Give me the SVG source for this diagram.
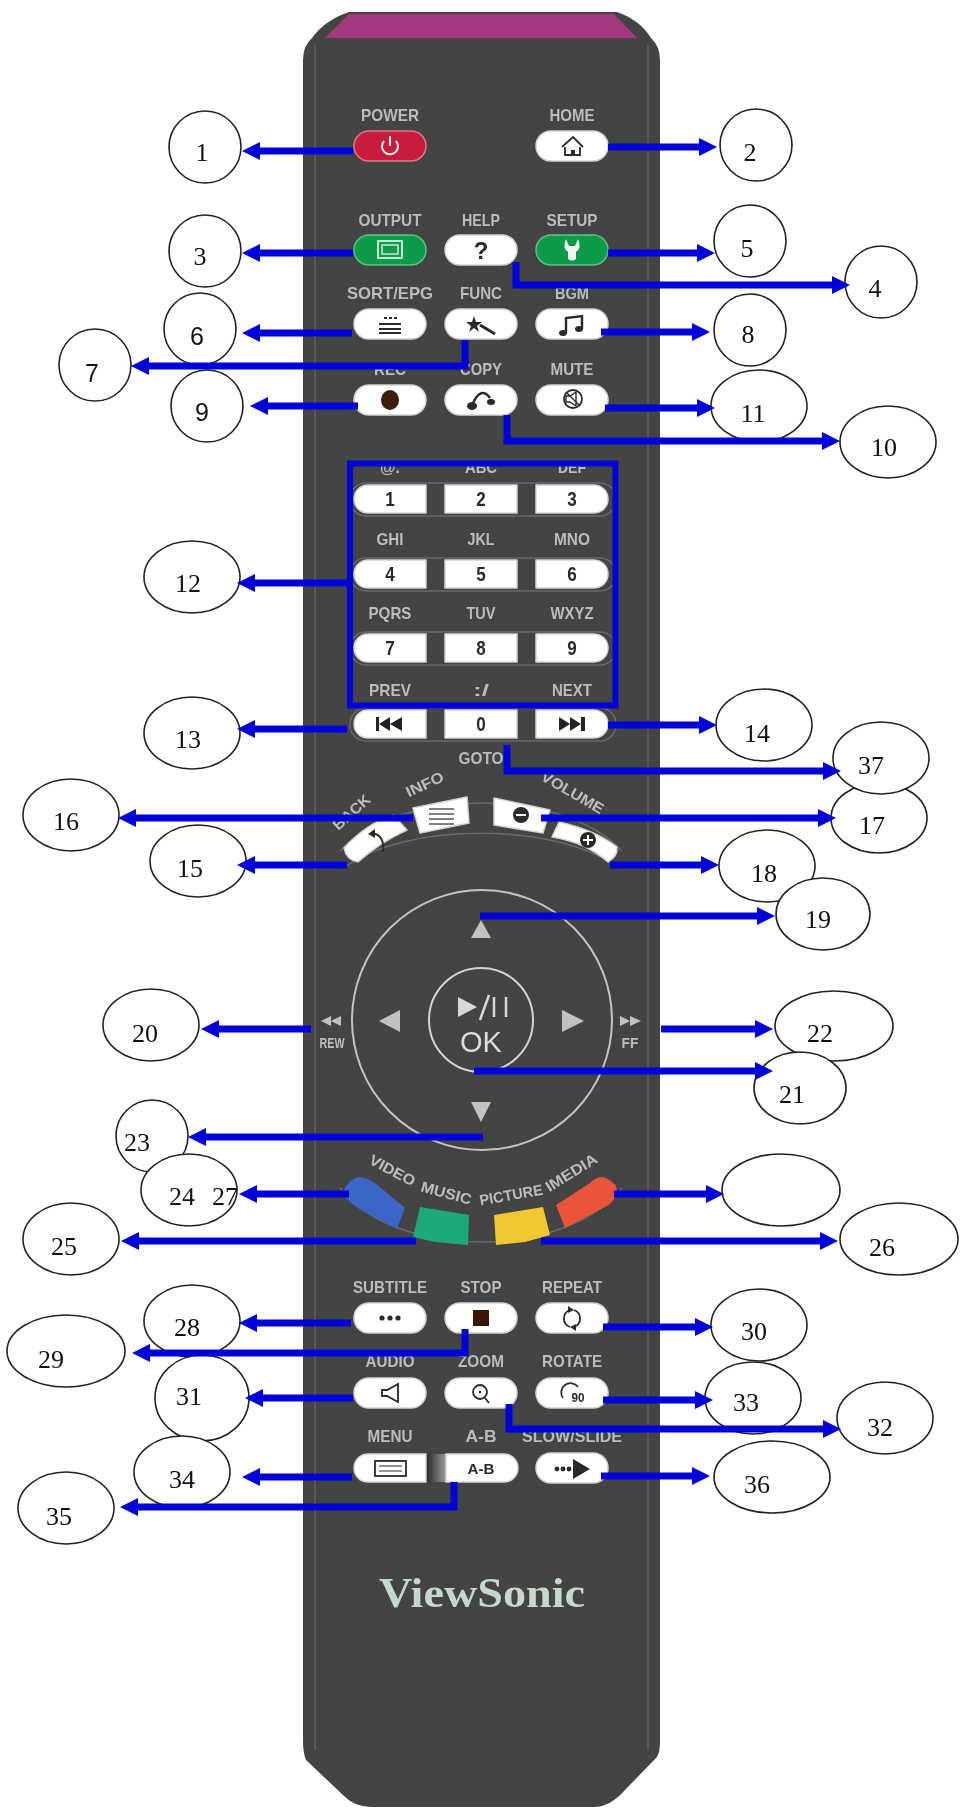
<svg xmlns="http://www.w3.org/2000/svg" width="968" height="1810" viewBox="0 0 968 1810">
<style>
.l{font-family:"Liberation Sans",Arial,sans-serif;font-size:17px;font-weight:bold;fill:#bcbcbc;text-anchor:middle}
.r{font-size:15px}
.d{font-family:"Liberation Sans",Arial,sans-serif;font-size:20px;font-weight:bold;fill:#2a2a2a;text-anchor:middle}
.n{font-family:"Liberation Serif","Times New Roman",serif;font-size:26px;fill:#111;text-anchor:middle}
.ns{font-family:"Liberation Sans",Arial,sans-serif;font-size:25px;fill:#111;text-anchor:middle}
.c{fill:#fff;stroke:#222;stroke-width:1.6}
.k{fill:#fff;stroke:#d4d4d4;stroke-width:1.5;stroke-linejoin:round}
.i{fill:#2a2a2a}
.s{fill:none;stroke:#2a2a2a;stroke-width:1.8}
.t{fill:#c2c2c2}
.w{fill:none;stroke:#6a6a6a;stroke-width:1.5}
.cn{fill:none;stroke:#0000d8;stroke-width:7;marker-end:url(#ah)}
</style>
<defs>
<marker id="ah" markerUnits="userSpaceOnUse" markerWidth="18" markerHeight="18" viewBox="0 0 18 18" refX="4" refY="9" orient="auto"><path d="M0,0L18,9L0,18Z" fill="#0000d8"/></marker>
<rect id="pill" x="-36" y="-15" width="72" height="30" rx="15"/>
<path id="pl" d="M36,-14H-22A14,14 0 0 0 -22,14H36Z"/>
<path id="pr" d="M-36,-14H22A14,14 0 0 1 22,14H-36Z"/>
<rect id="pc" x="-36" y="-14" width="72" height="28"/>
<linearGradient id="gap"><stop offset="0" stop-color="#222"/><stop offset="1" stop-color="#999"/></linearGradient>
<filter id="soft" x="-2%" y="-2%" width="104%" height="104%"><feGaussianBlur stdDeviation="0.5"/></filter>
</defs>
<rect width="968" height="1810" fill="#fff"/>
<g id="remote">
<path d="M349,12H617Q640,20 651,38Q660,46 660,60V1742Q660,1752 657,1757L625,1790Q610,1807 594,1807H371Q355,1807 344,1796L306,1760Q303,1752 303,1742V60Q303,46 312,38Q325,20 349,12Z" fill="#444"/>
<path d="M349,14H614L637,38H325Z" fill="#a33a7e"/>
<path d="M315,45V1750M648,45V1750" stroke="#6b655f" stroke-width="1.2" fill="none"/>
<path d="M340,851C400,787 562,787 622,851M345,867C405,822 557,822 617,867" class="w"/>
<ellipse cx="482" cy="1020" rx="130" ry="130" fill="none" stroke="#c4c4c4" stroke-width="2"/>
<circle cx="481" cy="1020" r="52" fill="none" stroke="#d4d4d4" stroke-width="2"/>
<path d="M340,1188C395,1260 565,1260 622,1188" class="w"/>
</g>
<g id="keys" filter="url(#soft)">
<g id="power"><text x="390" y="121" class="l" textLength="58" lengthAdjust="spacingAndGlyphs">POWER</text><use href="#pill" x="390" y="146" fill="#c81e3c" stroke="#d87a88" stroke-width="1.5"/><path d="M384,141A8,8 0 1 0 396,141" fill="none" stroke="#eee" stroke-width="2"/><path d="M390,136V146" stroke="#eee" stroke-width="2"/></g>
<g id="home"><text x="572" y="121" class="l" textLength="45" lengthAdjust="spacingAndGlyphs">HOME</text><use href="#pill" x="572" y="146" class="k"/><path d="M562,147L573,137L583,147M565,147V155H580V147" class="s"/><rect x="571" y="150" width="4" height="5" class="i"/></g>
<g id="output"><text x="390" y="226" class="l" textLength="63" lengthAdjust="spacingAndGlyphs">OUTPUT</text><use href="#pill" x="390" y="250" fill="#0d9a4a" stroke="#5cc08a" stroke-width="1.5"/><rect x="378" y="241" width="24" height="17" fill="none" stroke="#d8eee0" stroke-width="1.8"/><rect x="382" y="245" width="16" height="9" fill="none" stroke="#d8eee0" stroke-width="1.4"/></g>
<g id="help"><text x="481" y="226" class="l" textLength="38" lengthAdjust="spacingAndGlyphs">HELP</text><use href="#pill" x="481" y="250" class="k"/><text x="481" y="259" class="d" style="font-size:24px">?</text></g>
<g id="setup"><text x="572" y="226" class="l" textLength="51" lengthAdjust="spacingAndGlyphs">SETUP</text><use href="#pill" x="572" y="250" fill="#0d9a4a" stroke="#5cc08a" stroke-width="1.5"/><path d="M566,239L569,246H575L578,239Q582,248 576,252V259Q572,262 568,259V252Q562,248 566,239Z" fill="#f2f2f2"/></g>
<g id="sort"><text x="390" y="299" class="l" textLength="86" lengthAdjust="spacingAndGlyphs">SORT/EPG</text><use href="#pill" x="390" y="324" class="k"/><path d="M384,318h3M389,318h3M394,318h3M379,324H401M379,329H401M379,333H401" class="s"/></g>
<g id="func"><text x="481" y="299" class="l" textLength="42" lengthAdjust="spacingAndGlyphs">FUNC</text><use href="#pill" x="481" y="324" class="k"/><path d="M474,316L476,322L482,322L477,326L479,332L474,328L469,332L471,326L466,322L472,322Z" class="i"/><path d="M480,325L495,334" stroke="#2a2a2a" stroke-width="3"/></g>
<g id="bgm"><text x="572" y="299" class="l" textLength="34" lengthAdjust="spacingAndGlyphs">BGM</text><use href="#pill" x="572" y="324" class="k"/><path d="M566,333V318L582,316V329" class="s" style="stroke-width:2.4"/><ellipse cx="563" cy="333" rx="4" ry="3" class="i"/><ellipse cx="579" cy="329" rx="4" ry="3" class="i"/></g>
<g id="rec"><text x="390" y="375" class="l" textLength="32" lengthAdjust="spacingAndGlyphs">REC</text><use href="#pill" x="390" y="400" class="k"/><ellipse cx="390" cy="400" rx="9" ry="10" fill="#3a1a10"/></g>
<g id="copy"><text x="481" y="375" class="l" textLength="42" lengthAdjust="spacingAndGlyphs">COPY</text><use href="#pill" x="481" y="400" class="k"/><path d="M473,403Q481,386 490,398" class="s" style="stroke-width:2.4"/><ellipse cx="472" cy="406" rx="5" ry="4" class="i"/><ellipse cx="491" cy="402" rx="4" ry="3" class="i"/></g>
<g id="mute"><text x="572" y="375" class="l" textLength="43" lengthAdjust="spacingAndGlyphs">MUTE</text><use href="#pill" x="572" y="400" class="k"/><circle cx="573" cy="399" r="9" class="s"/><path d="M566,396H570L576,392V406L570,402H566ZM566,392L580,406" class="s" style="stroke-width:1.4"/></g>

<g id="digits">
<g class="w"><rect x="350" y="483" width="266" height="33" rx="16"/><rect x="350" y="558" width="266" height="33" rx="16"/><rect x="350" y="632" width="266" height="33" rx="16"/><rect x="350" y="708" width="266" height="33" rx="16"/></g>
<text x="390" y="473" class="l" textLength="20" lengthAdjust="spacingAndGlyphs">@.</text><text x="481" y="473" class="l" textLength="32" lengthAdjust="spacingAndGlyphs">ABC</text><text x="572" y="473" class="l" textLength="28" lengthAdjust="spacingAndGlyphs">DEF</text>
<text x="390" y="545" class="l" textLength="27" lengthAdjust="spacingAndGlyphs">GHI</text><text x="481" y="545" class="l" textLength="27" lengthAdjust="spacingAndGlyphs">JKL</text><text x="572" y="545" class="l" textLength="36" lengthAdjust="spacingAndGlyphs">MNO</text>
<text x="390" y="619" class="l" textLength="43" lengthAdjust="spacingAndGlyphs">PQRS</text><text x="481" y="619" class="l" textLength="29" lengthAdjust="spacingAndGlyphs">TUV</text><text x="572" y="619" class="l" textLength="43" lengthAdjust="spacingAndGlyphs">WXYZ</text>
<text x="390" y="696" class="l" textLength="42" lengthAdjust="spacingAndGlyphs">PREV</text><text x="481" y="696" class="l" textLength="16" lengthAdjust="spacingAndGlyphs">:/</text><text x="572" y="696" class="l" textLength="40" lengthAdjust="spacingAndGlyphs">NEXT</text>
<use href="#pl" x="390" y="499" class="k"/><use href="#pc" x="481" y="499" class="k"/><use href="#pr" x="572" y="499" class="k"/>
<use href="#pl" x="390" y="574" class="k"/><use href="#pc" x="481" y="574" class="k"/><use href="#pr" x="572" y="574" class="k"/>
<use href="#pl" x="390" y="648" class="k"/><use href="#pc" x="481" y="648" class="k"/><use href="#pr" x="572" y="648" class="k"/>
<use href="#pl" x="390" y="724" class="k"/><use href="#pc" x="481" y="724" class="k"/><use href="#pr" x="572" y="724" class="k"/>
<text x="390" y="506" class="d" textLength="9.5" lengthAdjust="spacingAndGlyphs">1</text><text x="481" y="506" class="d" textLength="9.5" lengthAdjust="spacingAndGlyphs">2</text><text x="572" y="506" class="d" textLength="9.5" lengthAdjust="spacingAndGlyphs">3</text>
<text x="390" y="581" class="d" textLength="9.5" lengthAdjust="spacingAndGlyphs">4</text><text x="481" y="581" class="d" textLength="9.5" lengthAdjust="spacingAndGlyphs">5</text><text x="572" y="581" class="d" textLength="9.5" lengthAdjust="spacingAndGlyphs">6</text>
<text x="390" y="655" class="d" textLength="9.5" lengthAdjust="spacingAndGlyphs">7</text><text x="481" y="655" class="d" textLength="9.5" lengthAdjust="spacingAndGlyphs">8</text><text x="572" y="655" class="d" textLength="9.5" lengthAdjust="spacingAndGlyphs">9</text>
<text x="481" y="731" class="d" textLength="9.5" lengthAdjust="spacingAndGlyphs">0</text>
<path d="M376,717V731h3V717ZM379,724L390,717V731ZM390,724L402,717V731Z" fill="#222"/>
<path d="M559,717V731L570,724ZM570,717V731L581,724ZM581,717V731H585V717Z" fill="#222"/>
<text x="481" y="764" class="l" textLength="45" lengthAdjust="spacingAndGlyphs">GOTO</text>
</g>

<g id="arc-keys">
<text transform="translate(355,816) rotate(-42)" class="l r" textLength="45" lengthAdjust="spacingAndGlyphs">BACK</text>
<text transform="translate(427,789) rotate(-25)" class="l r" textLength="40" lengthAdjust="spacingAndGlyphs">INFO</text>
<text transform="translate(570,797) rotate(30)" class="l r" textLength="70" lengthAdjust="spacingAndGlyphs">VOLUME</text>
<path id="k-back" d="M344,848Q366,824 393,815L407,830Q380,842 358,862Q346,860 344,848Z" class="k"/>
<path d="M372,833Q385,835 383,852" class="s"/><path d="M368,834L375,829V838Z" class="i"/>
<path id="k-info" d="M413,808L467,797L469,823L420,833Z" class="k"/>
<path d="M429,809H454M429,814H454M429,819H454M429,824H454" stroke="#555" stroke-width="1.5"/>
<path id="k-vol-" d="M494,798L550,810L543,833L494,825Z" class="k"/>
<circle cx="521" cy="815" r="8" class="i"/><path d="M516,815H526" stroke="#fff" stroke-width="2"/>
<path id="k-vol+" d="M559,822Q595,830 617,847Q618,856 608,862Q585,842 552,837Z" class="k"/>
<circle cx="588" cy="840" r="8" class="i"/><path d="M583,840H593M588,835V845" stroke="#fff" stroke-width="2"/>
</g>

<g id="dpad">
<path d="M481,920L491,938H471Z" class="t"/><path d="M471,1102H491L481,1122Z" class="t"/><path d="M400,1010V1032L379,1021Z" class="t"/><path d="M562,1010V1032L584,1021Z" class="t"/>
<path d="M458,997L477,1007L458,1017Z" fill="#d8d8d8"/><path d="M480,1020L489,995M494,997V1017M506,997V1017" stroke="#d8d8d8" stroke-width="2.5" fill="none"/>
<text x="481" y="1052" class="l" style="font-size:29px;fill:#dcdcdc;font-weight:normal">OK</text>
<path d="M321,1021L331,1016V1026ZM331,1021L341,1016V1026Z" class="t"/><text x="332" y="1048" class="l" textLength="25" lengthAdjust="spacingAndGlyphs" style="font-size:15px">REW</text>
<path d="M620,1016L630,1021L620,1026ZM630,1016L641,1021L630,1026Z" class="t"/><text x="630" y="1048" class="l" textLength="17" lengthAdjust="spacingAndGlyphs" style="font-size:15px">FF</text>
</g>

<g id="color-keys">
<text transform="translate(390,1175) rotate(28)" class="l r" textLength="50" lengthAdjust="spacingAndGlyphs">VIDEO</text>
<text transform="translate(445,1198) rotate(15)" class="l r" textLength="52" lengthAdjust="spacingAndGlyphs">MUSIC</text>
<text transform="translate(512,1200) rotate(-10)" class="l r" textLength="64" lengthAdjust="spacingAndGlyphs">PICTURE</text>
<text transform="translate(574,1177) rotate(-32)" class="l r" textLength="58" lengthAdjust="spacingAndGlyphs">IMEDIA</text>
<path id="k-video" d="M343,1192Q348,1180 358,1177Q368,1178 375,1183L405,1208L397,1229L365,1212Q346,1202 343,1192Z" fill="#3a66c8"/>
<path id="k-music" d="M420,1207L469,1215L468,1245L435,1242L413,1237Z" fill="#1eaa7a"/>
<path id="k-picture" d="M494,1215L543,1207L550,1235L525,1242L496,1245Z" fill="#f0c832"/>
<path id="k-imedia" d="M556,1205L590,1183Q598,1175 606,1178Q618,1184 617,1192Q614,1203 605,1207L565,1228Z" fill="#e8553a"/>
</g>

<g id="lower-keys">
<text x="390" y="1293" class="l" textLength="74" lengthAdjust="spacingAndGlyphs">SUBTITLE</text><use href="#pill" x="390" y="1318" class="k"/><circle cx="382" cy="1318" r="2.6" class="i"/><circle cx="390" cy="1318" r="2.6" class="i"/><circle cx="398" cy="1318" r="2.6" class="i"/>
<text x="481" y="1293" class="l" textLength="41" lengthAdjust="spacingAndGlyphs">STOP</text><use href="#pill" x="481" y="1318" class="k"/><rect x="473" y="1310" width="16" height="16" fill="#3a1505"/>
<text x="572" y="1293" class="l" textLength="60" lengthAdjust="spacingAndGlyphs">REPEAT</text><use href="#pill" x="572" y="1318" class="k"/><path d="M570,1310A9,9 0 0 0 570,1327M574,1310A9,9 0 0 1 574,1327" class="s"/><path d="M568,1306L574,1310L568,1313ZM576,1324L570,1327L576,1331Z" class="i"/>
<text x="390" y="1367" class="l" textLength="49" lengthAdjust="spacingAndGlyphs">AUDIO</text><use href="#pill" x="390" y="1393" class="k"/><path d="M382,1390H387L398,1384V1402L387,1396H382Z" class="s"/>
<text x="481" y="1367" class="l" textLength="46" lengthAdjust="spacingAndGlyphs">ZOOM</text><use href="#pill" x="481" y="1393" class="k"/><circle cx="480" cy="1392" r="7" class="s"/><path d="M485,1398L489,1403" class="s"/><circle cx="480" cy="1392" r="1.3" class="i"/>
<text x="572" y="1367" class="l" textLength="60" lengthAdjust="spacingAndGlyphs">ROTATE</text><use href="#pill" x="572" y="1393" class="k"/><path d="M563,1398A9,9 0 0 1 578,1387" class="s"/><text x="578" y="1402" class="d" textLength="13" lengthAdjust="spacingAndGlyphs" style="font-size:12px">90</text>
<text x="390" y="1442" class="l" textLength="45" lengthAdjust="spacingAndGlyphs">MENU</text>
<text x="481" y="1442" class="l" textLength="31" lengthAdjust="spacingAndGlyphs">A-B</text>
<text x="572" y="1442" class="l" textLength="100" lengthAdjust="spacingAndGlyphs">SLOW/SLIDE</text>
<rect x="425" y="1454" width="21" height="28" fill="url(#gap)"/>
<use href="#pl" x="390" y="1468" class="k"/><rect x="375" y="1461" width="31" height="15" class="s"/><path d="M379,1466H402M379,1471H402" class="s" style="stroke-width:1.2"/>
<use href="#pr" x="482" y="1468" class="k"/><text x="481" y="1474" class="d" textLength="27" lengthAdjust="spacingAndGlyphs" style="font-size:15px">A-B</text>
<use href="#pill" x="572" y="1468" class="k"/><circle cx="557" cy="1469" r="2.4" class="i"/><circle cx="563" cy="1469" r="2.4" class="i"/><circle cx="569" cy="1469" r="2.4" class="i"/><path d="M573,1459L590,1469L573,1479Z" class="i"/>
<text x="482" y="1607" font-family="Liberation Serif,serif" font-weight="bold" font-size="42" fill="#c5d8cc" text-anchor="middle" textLength="206" lengthAdjust="spacingAndGlyphs">ViewSonic</text>
</g>
</g>

<g id="callouts">
<g id="n1"><ellipse class="c" cx="205" cy="147" rx="36" ry="36"/><text class="n" x="202" y="161">1</text></g>
<g id="n2"><ellipse class="c" cx="756" cy="145" rx="36" ry="36"/><text class="n" x="750" y="161">2</text></g>
<g id="n3"><ellipse class="c" cx="205" cy="251" rx="36" ry="36"/><text class="n" x="200" y="265">3</text></g>
<g id="n5"><ellipse class="c" cx="750" cy="241" rx="36" ry="36"/><text class="n" x="747" y="257">5</text></g>
<g id="n4"><ellipse class="c" cx="881" cy="282" rx="36" ry="36"/><text class="n" x="875" y="297">4</text></g>
<g id="n6"><ellipse class="c" cx="200" cy="329" rx="36" ry="36"/><text class="ns" x="197" y="345">6</text></g>
<g id="n7"><ellipse class="c" cx="95" cy="365" rx="36" ry="36"/><text class="ns" x="92" y="382">7</text></g>
<g id="n8"><ellipse class="c" cx="750" cy="330" rx="36" ry="36"/><text class="n" x="748" y="343">8</text></g>
<g id="n9"><ellipse class="c" cx="207" cy="406" rx="36" ry="36"/><text class="ns" x="202" y="421">9</text></g>
<g id="n11"><ellipse class="c" cx="759" cy="406" rx="48" ry="36"/><text class="n" x="753" y="422">11</text></g>
<g id="n10"><ellipse class="c" cx="888" cy="442" rx="48" ry="36"/><text class="n" x="884" y="456">10</text></g>
<g id="n12"><ellipse class="c" cx="192" cy="577" rx="48" ry="36"/><text class="n" x="188" y="592">12</text></g>
<g id="n13"><ellipse class="c" cx="192" cy="733" rx="48" ry="36"/><text class="n" x="188" y="748">13</text></g>
<g id="n14"><ellipse class="c" cx="764" cy="725" rx="48" ry="36"/><text class="n" x="757" y="742">14</text></g>
<g id="n17"><ellipse class="c" cx="879" cy="818" rx="48" ry="35"/><text class="n" x="872" y="834">17</text></g>
<g id="n37"><ellipse class="c" cx="881" cy="758" rx="48" ry="36"/><text class="n" x="871" y="774">37</text></g>
<g id="n16"><ellipse class="c" cx="71" cy="815" rx="48" ry="36"/><text class="n" x="66" y="830">16</text></g>
<g id="n15"><ellipse class="c" cx="198" cy="861" rx="48" ry="36"/><text class="n" x="190" y="877">15</text></g>
<g id="n18"><ellipse class="c" cx="767" cy="866" rx="48" ry="36"/><text class="n" x="764" y="882">18</text></g>
<g id="n19"><ellipse class="c" cx="823" cy="914" rx="47" ry="36"/><text class="n" x="818" y="928">19</text></g>
<g id="n20"><ellipse class="c" cx="151" cy="1025" rx="48" ry="36"/><text class="n" x="145" y="1042">20</text></g>
<g id="n22"><ellipse class="c" cx="834" cy="1026" rx="59" ry="35"/><text class="n" x="820" y="1042">22</text></g>
<g id="n21"><ellipse class="c" cx="800" cy="1088" rx="46" ry="36"/><text class="n" x="792" y="1103">21</text></g>
<g id="n23"><ellipse class="c" cx="152" cy="1136" rx="36" ry="36"/><text class="n" x="137" y="1151">23</text></g>
<g id="n24-27"><ellipse class="c" cx="189" cy="1190" rx="48" ry="36"/><text class="n" y="1205"><tspan x="182">24</tspan><tspan x="225">27</tspan></text></g>
<g id="nblank"><ellipse class="c" cx="781" cy="1190" rx="59" ry="36"/></g>
<g id="n25"><ellipse class="c" cx="71" cy="1239" rx="48" ry="36"/><text class="n" x="64" y="1255">25</text></g>
<g id="n26"><ellipse class="c" cx="899" cy="1239" rx="59" ry="36"/><text class="n" x="882" y="1256">26</text></g>
<g id="n28"><ellipse class="c" cx="192" cy="1321" rx="48" ry="36"/><text class="n" x="187" y="1336">28</text></g>
<g id="n30"><ellipse class="c" cx="759" cy="1325" rx="48" ry="36"/><text class="n" x="754" y="1340">30</text></g>
<g id="n29"><ellipse class="c" cx="66" cy="1351" rx="59" ry="36"/><text class="n" x="51" y="1368">29</text></g>
<g id="n31"><ellipse class="c" cx="202" cy="1398" rx="47" ry="43"/><text class="n" x="189" y="1405">31</text></g>
<g id="n33"><ellipse class="c" cx="753" cy="1398" rx="48" ry="36"/><text class="n" x="746" y="1411">33</text></g>
<g id="n32"><ellipse class="c" cx="885" cy="1418" rx="48" ry="36"/><text class="n" x="880" y="1436">32</text></g>
<g id="n34"><ellipse class="c" cx="182" cy="1472" rx="48" ry="36"/><text class="n" x="182" y="1488">34</text></g>
<g id="n36"><ellipse class="c" cx="772" cy="1477" rx="58" ry="36"/><text class="n" x="757" y="1493">36</text></g>
<g id="n35"><ellipse class="c" cx="66" cy="1508" rx="48" ry="36"/><text class="n" x="59" y="1525">35</text></g>
</g>

<g id="connectors">
<path class="cn" d="M353,151H256"/><path class="cn" d="M608,147H703"/>
<path class="cn" d="M353,253H256"/><path class="cn" d="M608,253H701"/>
<path class="cn" d="M516,262V285H836"/>
<path class="cn" d="M352,333H256"/><path class="cn" d="M465,340V366H145"/>
<path class="cn" d="M601,332H696"/>
<path class="cn" d="M358,406H264"/><path class="cn" d="M605,408H701"/>
<path class="cn" d="M507,415V441H826"/>
<path class="cn" d="M349,583H251"/><path class="cn" d="M347,729H251"/><path class="cn" d="M608,725H703"/>
<path class="cn" d="M507,745V771H827"/>
<path class="cn" d="M413,818H132"/><path class="cn" d="M541,818H822"/>
<path class="cn" d="M347,865H251"/><path class="cn" d="M610,865H705"/>
<path class="cn" d="M480,916H761"/>
<path class="cn" d="M311,1029H215"/><path class="cn" d="M661,1029H759"/>
<path class="cn" d="M474,1071H759"/>
<path class="cn" d="M483,1137H202"/>
<path class="cn" d="M349,1194H253"/><path class="cn" d="M614,1194H710"/>
<path class="cn" d="M416,1241H135"/><path class="cn" d="M541,1241H824"/>
<path class="cn" d="M351,1323H253"/><path class="cn" d="M603,1327H699"/>
<path class="cn" d="M465,1329V1353H146"/>
<path class="cn" d="M353,1398H259"/><path class="cn" d="M603,1400H699"/>
<path class="cn" d="M509,1404V1429H827"/>
<path class="cn" d="M352,1477H256"/><path class="cn" d="M601,1476H696"/>
<path class="cn" d="M454,1482V1507H134"/>
</g>

<rect id="digit-frame" x="350" y="463.5" width="265.5" height="242" fill="none" stroke="#0000d8" stroke-width="6"/>
</svg>
